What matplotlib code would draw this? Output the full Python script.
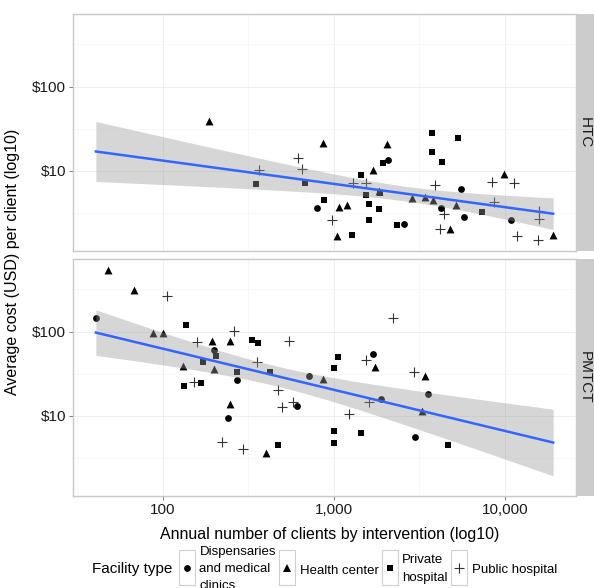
import numpy as np
import matplotlib
matplotlib.use("Agg")
import matplotlib.pyplot as plt
from matplotlib.lines import Line2D
from matplotlib.patches import Rectangle
from matplotlib.legend_handler import HandlerBase

plt.rcParams["font.family"] = ["Liberation Sans", "DejaVu Sans"]

# --- Data ---
# HTC panel, per facility type: clients per year, cost per client (USD)
htc_disp_x = [792, 2078, 2565, 4205, 5530, 5785, 10790]
htc_disp_y = [3.59, 13.5, 2.35, 3.59, 6.0, 2.81, 2.57]
htc_health_x = [187, 859, 1075, 1186, 1045, 2032, 1684, 1833, 2871, 3406, 3776, 4768, 5165, 9863, 19140]
htc_health_y = [38.5, 21.2, 3.75, 3.93, 1.66, 20.9, 10.1, 5.78, 4.79, 4.92, 4.5, 2.0, 3.93, 9.1, 1.74]
htc_private_x = [348, 674, 877, 1268, 1928, 1438, 1531, 1858, 1611, 1841, 1611, 2322, 3726, 3726, 4296, 5330, 7335]
htc_private_y = [6.9, 7.07, 4.5, 1.74, 12.2, 9.0, 5.15, 5.4, 4.04, 3.5, 2.62, 2.29, 27.9, 16.6, 12.7, 24.5, 3.27]
htc_public_x = [618, 647, 366, 969, 1285, 1531, 3897, 4397, 4169, 8625, 8363, 11330, 11800, 15880, 15880, 15520]
htc_public_y = [14.3, 10.6, 10.3, 2.62, 7.18, 7.06, 6.75, 3.05, 2.03, 4.3, 7.38, 7.06, 1.66, 3.36, 2.69, 1.49]

# PMTCT panel
pmtct_disp_x = [40.5, 199, 270, 714, 605, 239, 1683, 1884, 3530, 2980]
pmtct_disp_y = [146, 60.4, 26.8, 29.3, 13.0, 9.3, 53.6, 15.7, 18.0, 5.6]
pmtct_health_x = [47.9, 67.7, 87, 100.4, 194, 247, 131.5, 199.5, 859, 247, 400, 1738, 3406, 3255]
pmtct_health_y = [542, 315, 97.3, 95.7, 77.8, 77.8, 39.4, 35.4, 27.5, 13.6, 3.61, 38.1, 29.9, 11.5]
pmtct_private_x = [136, 333, 361, 203, 171, 272, 423, 1060, 1004, 133, 166, 472, 1000, 1000, 1439, 4627]
pmtct_private_y = [120, 79.3, 72.3, 51.4, 43.2, 32.9, 32.9, 49.4, 37.1, 22.5, 24.7, 4.52, 6.6, 4.73, 6.14, 4.49]
pmtct_public_x = [106, 261, 159, 546, 356, 152, 472, 498, 578, 1228, 220, 292, 2201, 1538, 1607, 2939]
pmtct_public_y = [268, 102, 74.3, 76.2, 43.2, 25.1, 20, 12.8, 14.4, 10.5, 4.8, 4.03, 144, 45.6, 14.5, 33.3]

facility_labels = ["Dispensaries\nand medical\nclinics", "Health center", "Private\nhospital", "Public hospital"]
panel_names = ["HTC", "PMTCT"]

x_ticks = [100, 1000, 10000]
x_ticklabels = ["100", "1,000", "10,000"]
y_ticks = [10, 100]
y_ticklabels = ["$10", "$100"]

panels = {
    "HTC": [(htc_disp_x, htc_disp_y), (htc_health_x, htc_health_y),
            (htc_private_x, htc_private_y), (htc_public_x, htc_public_y)],
    "PMTCT": [(pmtct_disp_x, pmtct_disp_y), (pmtct_health_x, pmtct_health_y),
              (pmtct_private_x, pmtct_private_y), (pmtct_public_x, pmtct_public_y)],
}

# --- Styling ---
marker_styles = [
    dict(marker="o", s=24, color="black", linewidths=0),
    dict(marker="^", s=32, color="black", linewidths=0),
    dict(marker="s", s=22, color="black", linewidths=0),
    dict(marker="+", s=60, color="#333333", linewidths=0.8),
]
line_color = "#3366FF"
band_color = "#999999"
border_color = "#C8C8C8"
grid_major = "#EBEBEB"
grid_minor = "#F5F5F5"
strip_color = "#CCCCCC"


def fit_lm(x, y, x_new):
    """OLS on log10 scale with 95% confidence band (like geom_smooth(method='lm'))."""
    lx, ly = np.log10(x), np.log10(y)
    n = len(lx)
    b1, b0 = np.polyfit(lx, ly, 1)
    resid = ly - (b0 + b1 * lx)
    s = np.sqrt(np.sum(resid ** 2) / (n - 2))
    mx = lx.mean()
    sxx = np.sum((lx - mx) ** 2)
    lxn = np.log10(x_new)
    se = s * np.sqrt(1.0 / n + (lxn - mx) ** 2 / sxx)
    df = n - 2
    z = 1.959964
    t = z + (z ** 3 + z) / (4 * df)
    fit = b0 + b1 * lxn
    return 10 ** fit, 10 ** (fit - t * se), 10 ** (fit + t * se)


# shared scale limits with ggplot-like 5% expansion in log space
all_x = np.concatenate([np.array(x, float) for p in panels.values() for x, _ in p])
all_y = np.concatenate([np.array(y, float) for p in panels.values() for _, y in p])
lx_min, lx_max = np.log10(all_x.min()), np.log10(all_x.max())
ly_min, ly_max = np.log10(all_y.min()), np.log10(all_y.max())
ex = 0.05 * (lx_max - lx_min)
ey = 0.05 * (ly_max - ly_min)
xlim = (10 ** (lx_min - ex), 10 ** (lx_max + ex))
ylim = (10 ** (ly_min - ey), 10 ** (ly_max + ey))

W, H = 594, 588
fig = plt.figure(figsize=(W / 100, H / 100), dpi=100)

panel_boxes = {
    "HTC": [73 / W, 1 - 251 / H, 503 / W, 237 / H],
    "PMTCT": [73 / W, 1 - 496 / H, 503 / W, 237 / H],
}

x_line = np.logspace(lx_min, lx_max, 200)

for name in panel_names:
    ax = fig.add_axes(panel_boxes[name])
    groups = panels[name]
    for (gx, gy), style in zip(groups, marker_styles):
        ax.scatter(gx, gy, zorder=2, **style)

    px = np.concatenate([np.array(gx, float) for gx, _ in groups])
    py = np.concatenate([np.array(gy, float) for _, gy in groups])
    fit, lo, hi = fit_lm(px, py, x_line)
    ax.fill_between(x_line, lo, hi, color=band_color, alpha=0.4, linewidth=0, zorder=3)
    ax.plot(x_line, fit, color=line_color, linewidth=1.8, zorder=4)

    ax.set_xscale("log")
    ax.set_yscale("log")
    ax.set_xlim(xlim)
    ax.set_ylim(ylim)

    ax.set_xticks(x_ticks)
    ax.set_yticks(y_ticks)
    ax.set_yticklabels(y_ticklabels)
    ax.set_xticks([10 ** 1.5, 10 ** 2.5, 10 ** 3.5], minor=True)
    ax.set_yticks([10 ** 0.5, 10 ** 1.5, 10 ** 2.5], minor=True)
    ax.grid(True, which="major", color=grid_major, linewidth=0.6, zorder=0)
    ax.grid(True, which="minor", color=grid_minor, linewidth=0.5, zorder=0)
    ax.set_axisbelow(True)
    ax.tick_params(which="minor", length=0)
    ax.tick_params(which="major", length=3, width=0.6, color="#666666",
                   labelsize=11, labelcolor="#1a1a1a", pad=2)
    if name == "PMTCT":
        ax.set_xticklabels(x_ticklabels)
    else:
        ax.tick_params(axis="x", which="both", labelbottom=False, length=0)
    for sp in ax.spines.values():
        sp.set_color(border_color)
        sp.set_linewidth(1.0)

    # facet strip on the right
    b = panel_boxes[name]
    sax = fig.add_axes([b[0] + b[2], b[1], 18 / W, b[3]])
    sax.set_facecolor(strip_color)
    sax.set_xticks([])
    sax.set_yticks([])
    for sp in sax.spines.values():
        sp.set_visible(False)
    sax.text(0.5, 0.5, name, rotation=270, ha="center", va="center",
             fontsize=11, color="#1a1a1a", transform=sax.transAxes)

fig.text(330 / W, 1 - 534 / H, "Annual number of clients by intervention (log10)",
         ha="center", va="center", fontsize=11.5)
fig.text(13 / W, 1 - 262 / H, "Average cost (USD) per client (log10)",
         ha="center", va="center", rotation=90, fontsize=11.5)


# --- Legend with boxed keys (ggplot style) ---
class BoxedKey(HandlerBase):
    def create_artists(self, legend, orig_handle, xdescent, ydescent,
                       width, height, fontsize, trans):
        y0 = -ydescent + 0.18 * fontsize
        box = Rectangle((-xdescent, y0), width, height,
                        facecolor="white", edgecolor="#D0D0D0", linewidth=0.8,
                        transform=trans)
        m = Line2D([width / 2 - xdescent], [y0 + height - 1.3 * fontsize],
                   marker=orig_handle.get_marker(), linestyle="",
                   markersize=orig_handle.get_markersize(),
                   markerfacecolor=orig_handle.get_markerfacecolor(),
                   markeredgecolor=orig_handle.get_markeredgecolor(),
                   markeredgewidth=orig_handle.get_markeredgewidth(),
                   transform=trans)
        return [box, m]


handles = []
for style in marker_styles:
    ms = np.sqrt(style["s"])
    if style["marker"] == "+":
        h = Line2D([], [], marker="+", linestyle="", markersize=ms,
                   markeredgecolor=style["color"], markeredgewidth=style["linewidths"])
    else:
        h = Line2D([], [], marker=style["marker"], linestyle="", markersize=ms,
                   markerfacecolor=style["color"], markeredgewidth=0,
                   markeredgecolor=style["color"])
    handles.append(h)

fig.text(92 / W, 1 - 569 / H, "Facility type", ha="left", va="center", fontsize=11)
leg = fig.legend(handles, facility_labels, loc="center left",
                 bbox_to_anchor=(179 / W, 1 - 569 / H), ncol=4, frameon=False,
                 fontsize=9.5, handlelength=1.2, handleheight=3.6, handletextpad=0.35,
                 columnspacing=0.25, borderpad=0, borderaxespad=0,
                 handler_map={Line2D: BoxedKey()})
for t in leg.get_texts():
    t.set_linespacing(1.6)

fig.savefig("out.png", dpi=100)
